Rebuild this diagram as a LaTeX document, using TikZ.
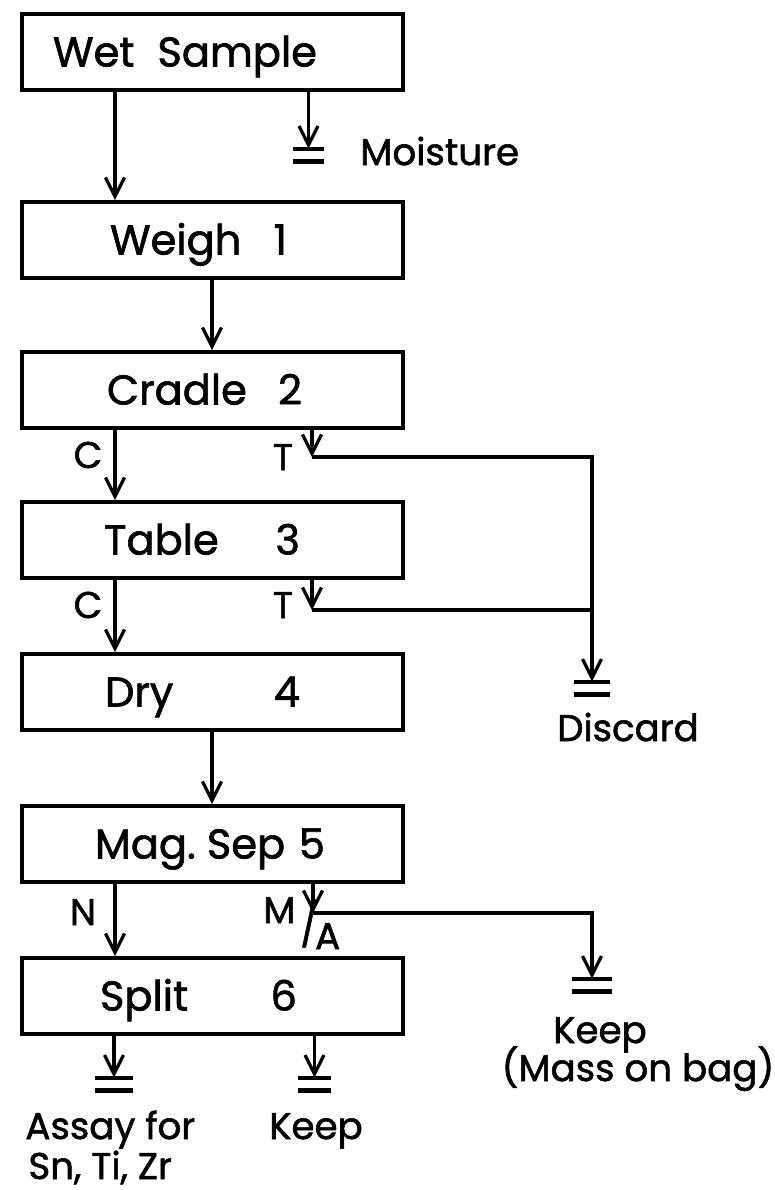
\documentclass[tikz,border=0pt]{standalone}
\usepackage{fontspec}
\setmainfont{Poppins}[FakeBold=1.5]
\usetikzlibrary{arrows.meta}
\newdimen\pxu \pxu=0.5pt
\newcommand\BXT[4]{\hbox to 381\pxu{\hspace*{#1\pxu}#2\hfil#3\hspace*{#4\pxu}}}
\begin{document}
\begin{tikzpicture}[x=0.5pt,y=-0.5pt,
  stage/.style={draw, line width=2pt, minimum height=38pt, inner sep=0pt,
    text height=14.5pt, text depth=0pt, font=\fontsize{20.8pt}{25pt}\selectfont},
  lbl/.style={inner sep=0pt, text height=13pt, text depth=0pt,
    font=\fontsize{18.6pt}{22pt}\selectfont},
  flow/.style={line width=1.6pt, -{Straight Barb[length=9.5pt,width=9.5pt,line width=1.6pt]}},
  plain/.style={line width=1.6pt},
  bar/.style={line width=2.1pt},
  sink/.style={minimum width=#1, minimum height=6pt, inner sep=0pt},
  sink/.default=18pt]
\useasboundingbox (0,0) rectangle (775,1190);
\fill[white] (0,0) rectangle (775,1190);
% columns
\coordinate (colL) at (115,0);
\coordinate (colM) at (212,0);
% boxes
\node[stage] (ws) at (212.5,52) {\BXT{31}{Wet}{Sample}{86}};
\node[stage] (weigh) at (212.5,240) {\BXT{88}{Weigh}{1}{116}};
\node[stage] (cradle) at (212.5,390) {\BXT{85}{Cradle}{2}{101}};
\node[stage] (table) at (212.5,540) {\BXT{82}{Table}{3}{103}};
\node[stage] (dry) at (212.5,692) {\BXT{83}{Dry}{4}{103}};
\node[stage] (mag) at (212.5,844) {\BXT{73}{Mag.\ Sep}{5}{78}};
\node[stage] (split) at (212.5,996) {\BXT{78}{Split}{6}{106}};
% sinks
\node[sink=15.5pt] (g1) at (308.5,155) {};
\node[sink=18pt] (g2) at (592,688) {};
\node[sink=19.5pt] (g3) at (592,985) {};
\node[sink=19pt] (g4) at (114,1084) {};
\node[sink=16.5pt] (g5) at (314.5,1084) {};
\foreach \g in {g1,g2,g3,g4,g5}{
  \draw[bar] (\g.north west) -- (\g.north east) (\g.south west) -- (\g.south east);}
% junctions
\coordinate (t1) at (312,457);
\coordinate (t2) at (312,610);
\coordinate (m1) at (313,913);
% connectors
\draw[flow] (ws.south -| colL) -- (weigh.north -| colL);
\draw[flow] (ws.south -| g1) -- (g1.north);
\draw[flow] (weigh.south -| colM) -- (cradle.north -| colM);
\draw[flow] (cradle.south -| colL) -- (table.north -| colL);
\draw[flow] (cradle.south -| t1) -- (t1);
\draw[flow] (t1) -| (g2.north);
\draw[flow] (table.south -| colL) -- (dry.north -| colL);
\draw[flow] (table.south -| t2) -- (t2);
\draw[plain] (t2) -- (t2 -| g2);
\draw[flow] (dry.south -| colM) -- (mag.north -| colM);
\draw[flow] (mag.south -| colL) -- (split.north -| colL);
\draw[flow] (mag.south -| m1) -- (m1);
\draw[flow] (m1) -| (g3.north);
\draw[flow] (split.south -| g4) -- (g4.north);
\draw[flow] (split.south -| g5) -- (g5.north);
% labels
\node[lbl, anchor=west] (moist) at (360,152) {Moisture};
\node[lbl] (c1) at (88,455) {C};
\node[lbl] (tl1) at (283,457) {T};
\node[lbl] (c2) at (88,605) {C};
\node[lbl] (tl2) at (283,605) {T};
\node[lbl] (disc) at (628,728) {Discard};
\node[lbl] (nl) at (83,912) {N};
\node[lbl, anchor=west] (ma) at (263,910) {M\kern2.5pt\raisebox{-8.5pt}{\scalebox{1}[1.15]{/}}\kern-1.5pt\raisebox{-13pt}{A}};
\node[lbl] (keep3) at (600,1030) {Keep};
\node[lbl] (mass) at (638,1068) {(Mass on bag)};
\node[lbl, anchor=west] (assay1) at (25,1126) {Assay for};
\node[lbl, anchor=west] (assay2) at (28,1166) {Sn, Ti, Zr};
\node[lbl] (keep6) at (316,1126) {Keep};
\end{tikzpicture}
\end{document}
